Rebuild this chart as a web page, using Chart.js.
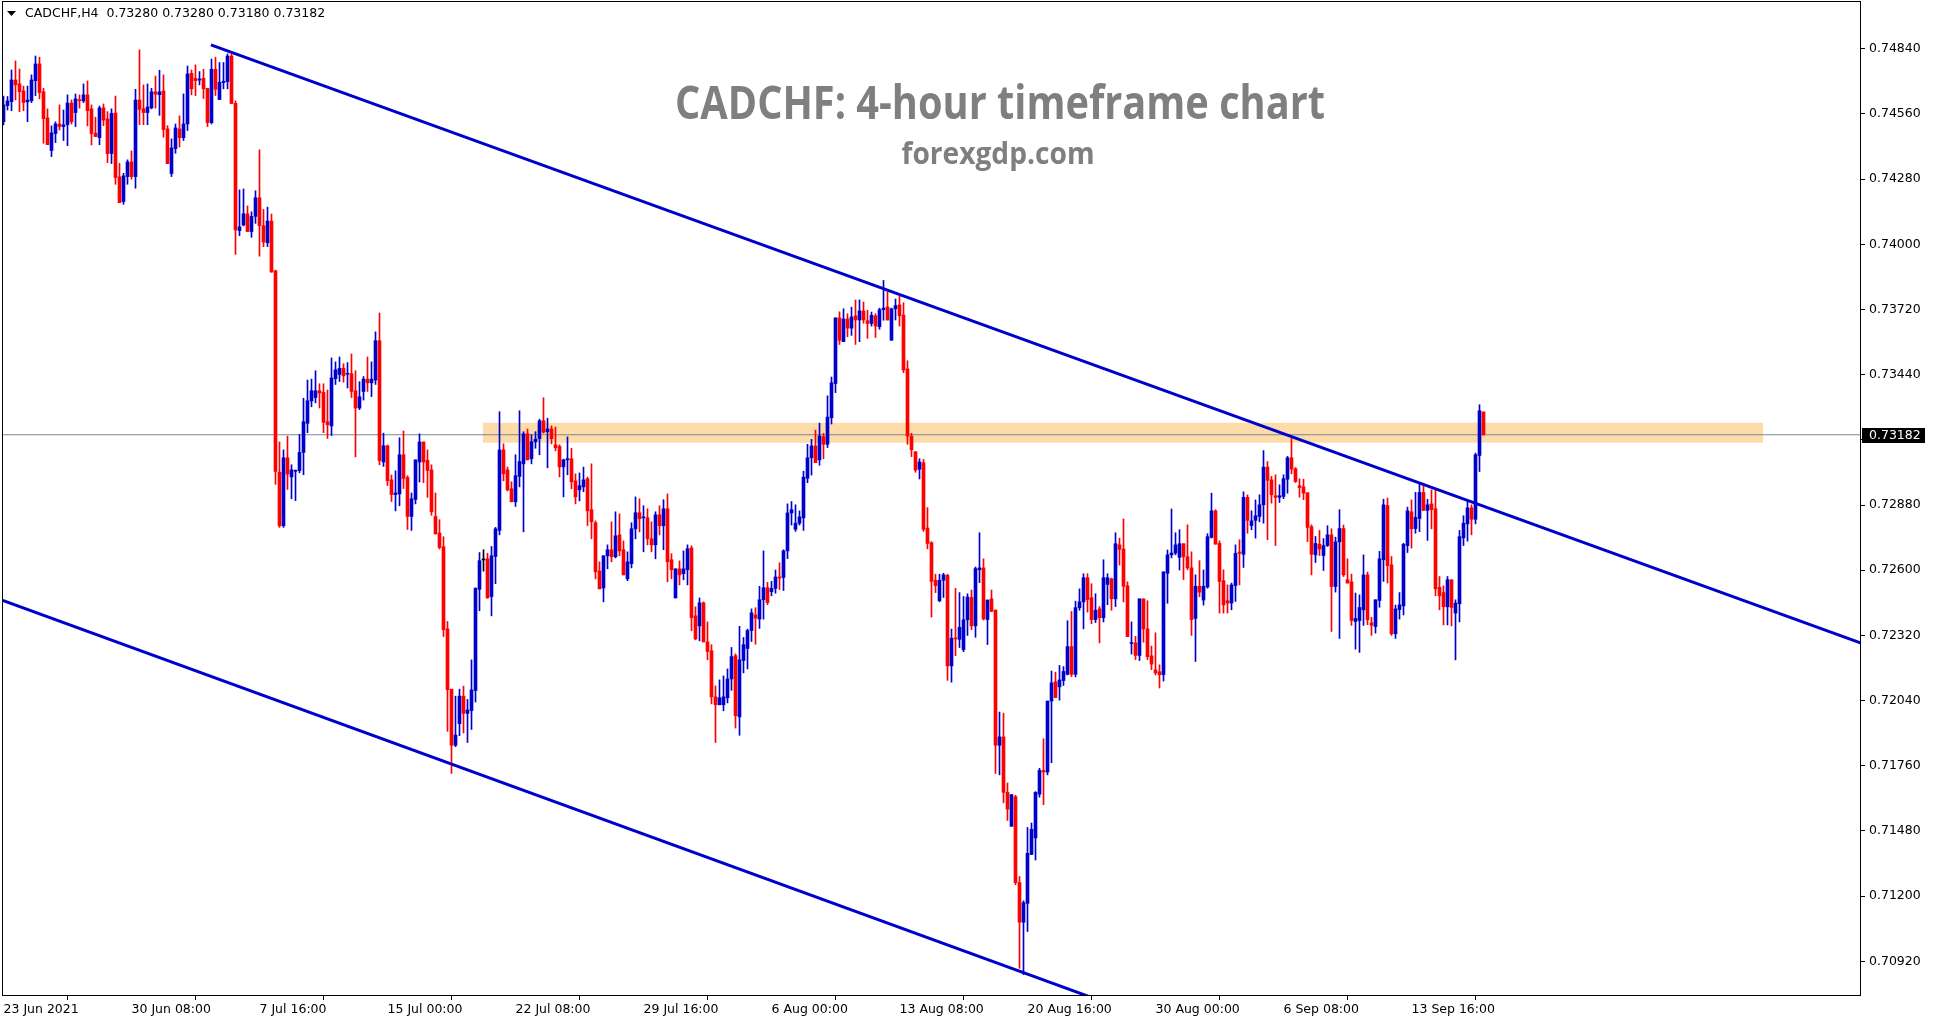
<!DOCTYPE html>
<html>
<head>
<meta charset="utf-8">
<script src="https://cdn.jsdelivr.net/npm/chart.js@4.4.0/dist/chart.umd.min.js"></script>
<style>
html, body { margin: 0; padding: 0; background: #fff; }
#wrap { width: 1933px; height: 1023px; }
</style>
</head>
<body>
<div id="wrap"><canvas id="myChart"></canvas></div>
<script>
var symbolName = 'CADCHF,H4'
var titleText = 'CADCHF: 4-hour timeframe chart'
var siteText = 'forexgdp.com'

// bar index of each date label on the time axis (one label every 32 H4 bars)
var xTickBars = [0, 32, 64, 96, 128, 160, 192, 224, 256, 288, 320, 352]
var xTickLabels = ['23 Jun 2021', '30 Jun 08:00', '7 Jul 16:00', '15 Jul 00:00', '22 Jul 08:00', '29 Jul 16:00',
    '6 Aug 00:00', '13 Aug 08:00', '20 Aug 16:00', '30 Aug 00:00', '6 Sep 08:00', '13 Sep 16:00']
var yTicks = [0.70920, 0.71200, 0.71480, 0.71760, 0.72040, 0.72320, 0.72600, 0.72880,
    0.73160, 0.73440, 0.73720, 0.74000, 0.74280, 0.74560, 0.74840]

var openVal = [
    0.74527, 0.74596, 0.74613, 0.74706, 0.74689, 0.74659, 0.74612, 0.74617, 0.74703, 0.74775,
    0.74655, 0.74543, 0.74403, 0.74476, 0.74517, 0.74506, 0.74514, 0.74607, 0.74566, 0.74622,
    0.74616, 0.74642, 0.74582, 0.74477, 0.74458, 0.74586, 0.74539, 0.74390, 0.74564, 0.74290,
    0.74184, 0.74291, 0.74354, 0.74291, 0.74620, 0.74582, 0.74566, 0.74586, 0.74655, 0.74643,
    0.74659, 0.74496, 0.74304, 0.74411, 0.74496, 0.74458, 0.74517, 0.74735, 0.74713, 0.74706,
    0.74713, 0.74670, 0.74523, 0.74752, 0.74622, 0.74695, 0.74699, 0.74809, 0.74606, 0.74059,
    0.74083, 0.74131, 0.74055, 0.74120, 0.74200, 0.74080, 0.74007, 0.74100, 0.73886, 0.73021,
    0.72791, 0.73083, 0.73001, 0.73025, 0.73028, 0.73106, 0.73231, 0.73327, 0.73342, 0.73371,
    0.73364, 0.73238, 0.73220, 0.73423, 0.73441, 0.73467, 0.73442, 0.73444, 0.73371, 0.73297,
    0.73368, 0.73421, 0.73405, 0.73417, 0.73586, 0.73065, 0.73134, 0.72988, 0.72925, 0.72928,
    0.73096, 0.72998, 0.72831, 0.72904, 0.73065, 0.73151, 0.73072, 0.73031, 0.72831, 0.72760,
    0.72701, 0.72348, 0.72089, 0.71848, 0.71941, 0.72059, 0.71985, 0.71997, 0.72083, 0.72518,
    0.72644, 0.72649, 0.72487, 0.72659, 0.72771, 0.73117, 0.73031, 0.72950, 0.72894, 0.73003,
    0.73057, 0.73186, 0.73079, 0.73152, 0.73165, 0.73242, 0.73195, 0.73207, 0.73139, 0.73132,
    0.73044, 0.73074, 0.73079, 0.72984, 0.72945, 0.72958, 0.72993, 0.72860, 0.72804, 0.72597,
    0.72524, 0.72662, 0.72688, 0.72658, 0.72752, 0.72688, 0.72563, 0.72628, 0.72778, 0.72847,
    0.72825, 0.72825, 0.72735, 0.72709, 0.72838, 0.72791, 0.72864, 0.72645, 0.72481, 0.72606,
    0.72585, 0.72602, 0.72696, 0.72404, 0.72361, 0.72460, 0.72292, 0.72254, 0.72056, 0.72022,
    0.72022, 0.72052, 0.72133, 0.72233, 0.71970, 0.72212, 0.72264, 0.72341, 0.72408, 0.72390,
    0.72473, 0.72525, 0.72508, 0.72522, 0.72571, 0.72569, 0.72683, 0.72846, 0.72776, 0.72802,
    0.72825, 0.72995, 0.73083, 0.73134, 0.73074, 0.73174, 0.73141, 0.73255, 0.73402, 0.73684,
    0.73582, 0.73679, 0.73640, 0.73693, 0.73675, 0.73714, 0.73672, 0.73660, 0.73693, 0.73646,
    0.73719, 0.73731, 0.73588, 0.73723, 0.73740, 0.73696, 0.73465, 0.73176, 0.73109, 0.73034,
    0.73062, 0.72781, 0.72718, 0.72557, 0.72469, 0.72557, 0.72578, 0.72189, 0.72308, 0.72303,
    0.72259, 0.72387, 0.72483, 0.72361, 0.72602, 0.72610, 0.72388, 0.72477, 0.72429, 0.71848,
    0.71884, 0.71646, 0.71500, 0.71627, 0.71258, 0.71088, 0.71169, 0.71379, 0.71450, 0.71638,
    0.71740, 0.71733, 0.72038, 0.72121, 0.72099, 0.72126, 0.72153, 0.72272, 0.72153, 0.72439,
    0.72464, 0.72568, 0.72482, 0.72388, 0.72434, 0.72396, 0.72539, 0.72563, 0.72477, 0.72709,
    0.72691, 0.72533, 0.72285, 0.72288, 0.72234, 0.72477, 0.72348, 0.72232, 0.72172, 0.72164,
    0.72151, 0.72587, 0.72666, 0.72674, 0.72655, 0.72714, 0.72658, 0.72610, 0.72393, 0.72531,
    0.72472, 0.72528, 0.72741, 0.72855, 0.72715, 0.72555, 0.72469, 0.72459, 0.72534, 0.72678,
    0.72668, 0.72913, 0.72792, 0.72814, 0.72831, 0.72881, 0.73043, 0.72988, 0.72920, 0.72913,
    0.72917, 0.72991, 0.73083, 0.73036, 0.72963, 0.72958, 0.72933, 0.72787, 0.72666, 0.72712,
    0.72663, 0.72706, 0.72752, 0.72530, 0.72722, 0.72779, 0.72559, 0.72550, 0.72380, 0.72384,
    0.72430, 0.72580, 0.72374, 0.72358, 0.72470, 0.72645, 0.72878, 0.72623, 0.72327, 0.72431,
    0.72447, 0.72706, 0.72851, 0.72779, 0.72822, 0.72934, 0.72857, 0.72885, 0.72864, 0.72527,
    0.72504, 0.72443, 0.72559, 0.72416, 0.72456, 0.72739, 0.72799, 0.72868, 0.72819, 0.73093,
    0.73280
]
var highVal = [
    0.74637, 0.74635, 0.74749, 0.74788, 0.74753, 0.74680, 0.74680, 0.74728, 0.74809, 0.74804,
    0.74670, 0.74582, 0.74509, 0.74526, 0.74599, 0.74577, 0.74642, 0.74620, 0.74646, 0.74642,
    0.74689, 0.74702, 0.74599, 0.74546, 0.74594, 0.74603, 0.74570, 0.74582, 0.74637, 0.74348,
    0.74305, 0.74363, 0.74401, 0.74666, 0.74835, 0.74685, 0.74689, 0.74670, 0.74723, 0.74748,
    0.74728, 0.74510, 0.74453, 0.74517, 0.74552, 0.74646, 0.74766, 0.74749, 0.74771, 0.74742,
    0.74752, 0.74670, 0.74796, 0.74804, 0.74781, 0.74781, 0.74818, 0.74821, 0.74616, 0.74234,
    0.74238, 0.74165, 0.74140, 0.74230, 0.74406, 0.74150, 0.74160, 0.74130, 0.73889, 0.73151,
    0.73117, 0.73176, 0.73053, 0.73031, 0.73183, 0.73339, 0.73417, 0.73421, 0.73457, 0.73401,
    0.73401, 0.73374, 0.73512, 0.73495, 0.73516, 0.73487, 0.73492, 0.73529, 0.73457, 0.73410,
    0.73432, 0.73516, 0.73495, 0.73624, 0.73705, 0.73189, 0.73138, 0.73009, 0.73027, 0.73169,
    0.73198, 0.73006, 0.72932, 0.73074, 0.73186, 0.73151, 0.73117, 0.73053, 0.72932, 0.72817,
    0.72744, 0.72380, 0.72089, 0.72059, 0.72089, 0.72102, 0.72045, 0.72215, 0.72525, 0.72676,
    0.72688, 0.72673, 0.72702, 0.72784, 0.73281, 0.73143, 0.73043, 0.72980, 0.73096, 0.73285,
    0.73195, 0.73207, 0.73182, 0.73195, 0.73249, 0.73341, 0.73253, 0.73220, 0.73215, 0.73139,
    0.73077, 0.73173, 0.73124, 0.73014, 0.73018, 0.73043, 0.73000, 0.73057, 0.72812, 0.72636,
    0.72662, 0.72709, 0.72808, 0.72851, 0.72842, 0.72726, 0.72679, 0.72804, 0.72915, 0.72907,
    0.72877, 0.72864, 0.72808, 0.72851, 0.72877, 0.72903, 0.72928, 0.72671, 0.72606, 0.72640,
    0.72683, 0.72709, 0.72705, 0.72443, 0.72481, 0.72464, 0.72378, 0.72280, 0.72103, 0.72129,
    0.72146, 0.72176, 0.72268, 0.72241, 0.72359, 0.72311, 0.72347, 0.72434, 0.72439, 0.72531,
    0.72683, 0.72548, 0.72552, 0.72601, 0.72632, 0.72688, 0.72885, 0.72895, 0.72881, 0.72855,
    0.73025, 0.73141, 0.73162, 0.73202, 0.73232, 0.73188, 0.73349, 0.73430, 0.73684, 0.73710,
    0.73723, 0.73702, 0.73730, 0.73761, 0.73761, 0.73752, 0.73717, 0.73709, 0.73702, 0.73726,
    0.73845, 0.73796, 0.73726, 0.73765, 0.73779, 0.73749, 0.73500, 0.73188, 0.73109, 0.73079,
    0.73076, 0.72869, 0.72723, 0.72583, 0.72583, 0.72587, 0.72583, 0.72347, 0.72522, 0.72504,
    0.72487, 0.72499, 0.72515, 0.72614, 0.72761, 0.72649, 0.72472, 0.72515, 0.72429, 0.71991,
    0.71986, 0.71686, 0.71636, 0.71633, 0.71284, 0.71180, 0.71495, 0.71514, 0.71649, 0.71749,
    0.71876, 0.72038, 0.72167, 0.72162, 0.72191, 0.72186, 0.72383, 0.72423, 0.72467, 0.72520,
    0.72585, 0.72585, 0.72542, 0.72499, 0.72444, 0.72645, 0.72585, 0.72566, 0.72761, 0.72738,
    0.72820, 0.72550, 0.72378, 0.72316, 0.72477, 0.72477, 0.72469, 0.72274, 0.72331, 0.72194,
    0.72593, 0.72687, 0.72863, 0.72761, 0.72774, 0.72714, 0.72795, 0.72679, 0.72580, 0.72641,
    0.72601, 0.72757, 0.72931, 0.72860, 0.72726, 0.72602, 0.72537, 0.72545, 0.72709, 0.72731,
    0.72937, 0.72924, 0.72855, 0.72902, 0.72924, 0.73114, 0.73067, 0.73003, 0.73010, 0.72967,
    0.73010, 0.73089, 0.73166, 0.73041, 0.72993, 0.72991, 0.72933, 0.72795, 0.72745, 0.72771,
    0.72736, 0.72791, 0.72778, 0.72742, 0.72860, 0.72794, 0.72649, 0.72583, 0.72502, 0.72494,
    0.72666, 0.72592, 0.72398, 0.72473, 0.72681, 0.72905, 0.72910, 0.72659, 0.72450, 0.72504,
    0.72716, 0.72871, 0.72902, 0.72935, 0.72971, 0.72974, 0.72905, 0.72945, 0.72948, 0.72573,
    0.72533, 0.72573, 0.72559, 0.72473, 0.72771, 0.72834, 0.72894, 0.72881, 0.73103, 0.73311,
    0.73280
]
var lowVal = [
    0.74513, 0.74577, 0.74574, 0.74620, 0.74570, 0.74574, 0.74527, 0.74609, 0.74639, 0.74625,
    0.74434, 0.74428, 0.74377, 0.74437, 0.74491, 0.74446, 0.74424, 0.74517, 0.74506, 0.74585,
    0.74609, 0.74509, 0.74427, 0.74463, 0.74428, 0.74510, 0.74351, 0.74347, 0.74258, 0.74179,
    0.74172, 0.74258, 0.74280, 0.74241, 0.74514, 0.74514, 0.74514, 0.74582, 0.74585, 0.74554,
    0.74460, 0.74347, 0.74291, 0.74391, 0.74418, 0.74446, 0.74489, 0.74642, 0.74639, 0.74685,
    0.74626, 0.74506, 0.74517, 0.74639, 0.74622, 0.74668, 0.74668, 0.74605, 0.73957, 0.74037,
    0.74079, 0.74055, 0.74030, 0.74090, 0.73949, 0.73990, 0.73990, 0.73880, 0.72969, 0.72784,
    0.72784, 0.72947, 0.72907, 0.72899, 0.73018, 0.73010, 0.73191, 0.73302, 0.73319, 0.73297,
    0.73191, 0.73166, 0.73179, 0.73398, 0.73411, 0.73408, 0.73383, 0.73342, 0.73087, 0.73290,
    0.73331, 0.73368, 0.73346, 0.73398, 0.73053, 0.73046, 0.72964, 0.72895, 0.72855, 0.72877,
    0.72951, 0.72775, 0.72771, 0.72885, 0.72979, 0.72976, 0.72913, 0.72836, 0.72754, 0.72691,
    0.72315, 0.71908, 0.71727, 0.71842, 0.71889, 0.71901, 0.71860, 0.71916, 0.72034, 0.72426,
    0.72596, 0.72480, 0.72404, 0.72542, 0.72752, 0.72984, 0.72941, 0.72894, 0.72874, 0.72958,
    0.72765, 0.73074, 0.73057, 0.73124, 0.73096, 0.73189, 0.73040, 0.73143, 0.73113, 0.73001,
    0.72915, 0.73010, 0.72950, 0.72885, 0.72898, 0.72937, 0.72792, 0.72735, 0.72563, 0.72520,
    0.72464, 0.72606, 0.72636, 0.72653, 0.72662, 0.72580, 0.72555, 0.72610, 0.72735, 0.72765,
    0.72679, 0.72709, 0.72679, 0.72649, 0.72752, 0.72688, 0.72550, 0.72563, 0.72481, 0.72537,
    0.72559, 0.72537, 0.72340, 0.72301, 0.72297, 0.72292, 0.72215, 0.72026, 0.71860, 0.72022,
    0.71996, 0.72030, 0.72084, 0.71922, 0.71891, 0.72159, 0.72176, 0.72294, 0.72282, 0.72350,
    0.72390, 0.72452, 0.72490, 0.72501, 0.72517, 0.72513, 0.72650, 0.72794, 0.72767, 0.72794,
    0.72771, 0.72976, 0.73009, 0.73062, 0.73051, 0.73079, 0.73127, 0.73228, 0.73363, 0.73570,
    0.73582, 0.73603, 0.73609, 0.73570, 0.73582, 0.73661, 0.73596, 0.73649, 0.73600, 0.73635,
    0.73674, 0.73675, 0.73588, 0.73675, 0.73649, 0.73449, 0.73141, 0.73088, 0.73021, 0.72992,
    0.72767, 0.72692, 0.72399, 0.72504, 0.72464, 0.72483, 0.72127, 0.72119, 0.72233, 0.72268,
    0.72250, 0.72320, 0.72345, 0.72312, 0.72547, 0.72386, 0.72281, 0.72423, 0.71727, 0.71721,
    0.71601, 0.71525, 0.71500, 0.71249, 0.70890, 0.70863, 0.71048, 0.71379, 0.71355, 0.71625,
    0.71593, 0.71721, 0.71773, 0.72053, 0.72042, 0.72105, 0.72150, 0.72143, 0.72142, 0.72428,
    0.72348, 0.72420, 0.72370, 0.72375, 0.72288, 0.72378, 0.72452, 0.72428, 0.72444, 0.72622,
    0.72464, 0.72315, 0.72240, 0.72216, 0.72212, 0.72291, 0.72216, 0.72173, 0.72150, 0.72094,
    0.72124, 0.72458, 0.72653, 0.72666, 0.72601, 0.72560, 0.72602, 0.72320, 0.72208, 0.72486,
    0.72450, 0.72523, 0.72738, 0.72712, 0.72416, 0.72416, 0.72416, 0.72430, 0.72466, 0.72537,
    0.72612, 0.72759, 0.72774, 0.72738, 0.72808, 0.72802, 0.72731, 0.72888, 0.72706, 0.72891,
    0.72907, 0.72931, 0.73014, 0.72977, 0.72914, 0.72903, 0.72723, 0.72580, 0.72633, 0.72663,
    0.72599, 0.72702, 0.72337, 0.72506, 0.72307, 0.72573, 0.72545, 0.72363, 0.72261, 0.72247,
    0.72363, 0.72366, 0.72320, 0.72330, 0.72441, 0.72552, 0.72545, 0.72320, 0.72307, 0.72390,
    0.72408, 0.72676, 0.72695, 0.72759, 0.72766, 0.72857, 0.72728, 0.72778, 0.72490, 0.72430,
    0.72365, 0.72365, 0.72361, 0.72215, 0.72378, 0.72706, 0.72725, 0.72752, 0.72799, 0.73024,
    0.73180
]
var closeVal = [
    0.74599, 0.74616, 0.74706, 0.74685, 0.74656, 0.74609, 0.74620, 0.74706, 0.74775, 0.74652,
    0.74540, 0.74428, 0.74479, 0.74517, 0.74506, 0.74513, 0.74607, 0.74526, 0.74625, 0.74617,
    0.74642, 0.74574, 0.74476, 0.74463, 0.74586, 0.74534, 0.74390, 0.74563, 0.74287, 0.74179,
    0.74294, 0.74354, 0.74291, 0.74620, 0.74580, 0.74566, 0.74590, 0.74655, 0.74645, 0.74655,
    0.74493, 0.74347, 0.74414, 0.74500, 0.74458, 0.74517, 0.74732, 0.74668, 0.74703, 0.74710,
    0.74668, 0.74523, 0.74752, 0.74666, 0.74696, 0.74700, 0.74809, 0.74605, 0.74062, 0.74075,
    0.74131, 0.74055, 0.74120, 0.74200, 0.74080, 0.74010, 0.74100, 0.73881, 0.73024, 0.72791,
    0.73083, 0.73013, 0.73031, 0.73028, 0.73106, 0.73238, 0.73328, 0.73371, 0.73371, 0.73361,
    0.73235, 0.73225, 0.73426, 0.73461, 0.73467, 0.73435, 0.73445, 0.73368, 0.73297, 0.73345,
    0.73421, 0.73405, 0.73421, 0.73586, 0.73071, 0.73135, 0.72984, 0.72925, 0.72932, 0.73096,
    0.72994, 0.72831, 0.72907, 0.73074, 0.73151, 0.73065, 0.73028, 0.72851, 0.72757, 0.72698,
    0.72345, 0.72087, 0.71848, 0.71892, 0.72059, 0.71985, 0.72000, 0.72086, 0.72522, 0.72641,
    0.72644, 0.72481, 0.72662, 0.72778, 0.73117, 0.73014, 0.72945, 0.72894, 0.73006, 0.73067,
    0.73186, 0.73074, 0.73152, 0.73163, 0.73242, 0.73193, 0.73207, 0.73165, 0.73126, 0.73044,
    0.73074, 0.73079, 0.72980, 0.72915, 0.72963, 0.72988, 0.72855, 0.72808, 0.72593, 0.72520,
    0.72662, 0.72688, 0.72658, 0.72748, 0.72683, 0.72580, 0.72636, 0.72778, 0.72847, 0.72821,
    0.72829, 0.72735, 0.72709, 0.72838, 0.72791, 0.72864, 0.72636, 0.72602, 0.72606, 0.72580,
    0.72606, 0.72692, 0.72396, 0.72305, 0.72460, 0.72292, 0.72251, 0.72056, 0.72022, 0.72052,
    0.72056, 0.72133, 0.72229, 0.71975, 0.72215, 0.72280, 0.72341, 0.72417, 0.72394, 0.72473,
    0.72525, 0.72461, 0.72522, 0.72571, 0.72566, 0.72683, 0.72846, 0.72860, 0.72802, 0.72829,
    0.73000, 0.73083, 0.73134, 0.73062, 0.73177, 0.73141, 0.73258, 0.73405, 0.73684, 0.73588,
    0.73679, 0.73640, 0.73688, 0.73675, 0.73714, 0.73675, 0.73660, 0.73695, 0.73649, 0.73719,
    0.73726, 0.73675, 0.73723, 0.73737, 0.73693, 0.73460, 0.73176, 0.73118, 0.73030, 0.73065,
    0.72776, 0.72715, 0.72552, 0.72534, 0.72557, 0.72580, 0.72189, 0.72308, 0.72305, 0.72355,
    0.72387, 0.72485, 0.72361, 0.72607, 0.72610, 0.72391, 0.72472, 0.72423, 0.71848, 0.71884,
    0.71646, 0.71574, 0.71636, 0.71258, 0.71088, 0.71172, 0.71384, 0.71487, 0.71646, 0.71740,
    0.71733, 0.72038, 0.72116, 0.72053, 0.72129, 0.72165, 0.72272, 0.72153, 0.72439, 0.72464,
    0.72568, 0.72474, 0.72388, 0.72428, 0.72396, 0.72568, 0.72568, 0.72477, 0.72714, 0.72690,
    0.72531, 0.72315, 0.72288, 0.72234, 0.72477, 0.72348, 0.72229, 0.72197, 0.72159, 0.72151,
    0.72593, 0.72666, 0.72674, 0.72709, 0.72714, 0.72658, 0.72610, 0.72388, 0.72531, 0.72506,
    0.72531, 0.72744, 0.72855, 0.72712, 0.72552, 0.72451, 0.72459, 0.72537, 0.72673, 0.72673,
    0.72913, 0.72814, 0.72812, 0.72834, 0.72881, 0.73043, 0.72986, 0.72924, 0.72913, 0.72920,
    0.72993, 0.73083, 0.73034, 0.72981, 0.72955, 0.72931, 0.72784, 0.72669, 0.72715, 0.72691,
    0.72706, 0.72752, 0.72530, 0.72722, 0.72779, 0.72580, 0.72545, 0.72384, 0.72393, 0.72440,
    0.72580, 0.72387, 0.72364, 0.72473, 0.72649, 0.72881, 0.72620, 0.72327, 0.72434, 0.72451,
    0.72711, 0.72855, 0.72778, 0.72827, 0.72934, 0.72857, 0.72881, 0.72860, 0.72520, 0.72490,
    0.72443, 0.72559, 0.72440, 0.72459, 0.72744, 0.72802, 0.72868, 0.72819, 0.73096, 0.73285,
    0.73182
]

// drawn objects, as [bar index, price] end points
var upperLineBars = [51.85, 464.4]
var upperLinePrices = [0.74857, 0.72287]
var lowerLineBars = [-0.375, 275]
var lowerLinePrices = [0.72471, 0.70746]
var zoneBars = [119.8, 439.9]
var zonePrices = [0.73234, 0.73148]

var blueCol = '#0000cd'
var redCol = '#ff0000'
var axisFont = { family: 'DejaVu Sans', size: 12.5 }

var lastIdx = closeVal.length - 1
var bodyData = []
var wickData = []
var candleColors = []
for (var i = 0; i < closeVal.length; i++) {
    bodyData.push({ x: i, y: [openVal[i], closeVal[i]] })
    wickData.push({ x: i, y: [lowVal[i], highVal[i]] })
    if (closeVal[i] > openVal[i]) candleColors.push(blueCol)
    else if (closeVal[i] < openVal[i]) candleColors.push(redCol)
    else candleColors.push('#000000')
}

function twoPoints(xs, ys) {
    return [{ x: xs[0], y: ys[0] }, { x: xs[1], y: ys[1] }]
}

// no extra room for overhanging tick labels, the frame sits at the canvas edge
function noPadding(axis) {
    axis.paddingTop = 0
    axis.paddingBottom = 0
    axis.paddingLeft = 0
    axis.paddingRight = 0
}

var overlay = {
    id: 'overlay',
    afterDraw: function (chart) {
        var ctx = chart.ctx
        var a = chart.chartArea
        var ys = chart.scales.y
        ctx.save()

        // frame
        ctx.strokeStyle = '#000'
        ctx.lineWidth = 1
        ctx.strokeRect(a.left + 0.5, a.top - 0.5, a.right - a.left - 1, a.bottom - a.top)

        // header line
        ctx.fillStyle = '#000'
        ctx.beginPath()
        ctx.moveTo(7, 11)
        ctx.lineTo(16, 11)
        ctx.lineTo(11.5, 16)
        ctx.closePath()
        ctx.fill()
        ctx.font = '12.5px "DejaVu Sans"'
        ctx.textBaseline = 'middle'
        ctx.textAlign = 'left'
        var ohlc = [openVal[lastIdx], highVal[lastIdx], lowVal[lastIdx], closeVal[lastIdx]]
        ctx.fillText(symbolName + '  ' + ohlc.map(function (v) { return v.toFixed(5) }).join(' '), 25, 14)

        // title
        ctx.fillStyle = '#7f7f7f'
        ctx.textAlign = 'center'
        ctx.textBaseline = 'alphabetic'
        ctx.font = 'bold 46px "Open Sans"'
        var w = ctx.measureText(titleText).width
        ctx.save()
        ctx.translate(1000, 118.5)
        ctx.scale(650 / w, 1)
        ctx.fillText(titleText, 0, 0)
        ctx.restore()
        ctx.font = 'bold 30px "Open Sans"'
        w = ctx.measureText(siteText).width
        ctx.save()
        ctx.translate(998, 164)
        ctx.scale(193 / w, 1)
        ctx.fillText(siteText, 0, 0)
        ctx.restore()

        // current price label
        var yc = Math.round(ys.getPixelForValue(closeVal[lastIdx]))
        ctx.fillStyle = '#000'
        ctx.fillRect(a.right + 1, yc - 7, 63, 15)
        ctx.fillStyle = '#fff'
        ctx.textAlign = 'left'
        ctx.textBaseline = 'middle'
        ctx.font = '12.5px "DejaVu Sans"'
        ctx.fillText(closeVal[lastIdx].toFixed(5), a.right + 8, yc + 0.5)
        ctx.restore()
    }
}

var myChart = new Chart('myChart', {
    type: 'bar',
    data: {
        datasets: [{
            type: 'line',
            data: twoPoints(upperLineBars, upperLinePrices),
            borderColor: blueCol,
            borderWidth: 3,
            pointRadius: 0,
            order: 1
        }, {
            type: 'line',
            data: twoPoints(lowerLineBars, lowerLinePrices),
            borderColor: blueCol,
            borderWidth: 3,
            pointRadius: 0,
            order: 1
        }, {
            data: bodyData,
            backgroundColor: candleColors,
            barThickness: 3,
            minBarLength: 1,
            grouped: false,
            borderWidth: 0,
            order: 2
        }, {
            data: wickData,
            backgroundColor: candleColors,
            barThickness: 1,
            grouped: false,
            borderWidth: 0,
            order: 3
        }, {
            type: 'line',
            data: twoPoints([-0.375, 464.375], [closeVal[lastIdx], closeVal[lastIdx]]),
            borderColor: '#778899',
            borderWidth: 1,
            pointRadius: 0,
            order: 4
        }, {
            type: 'line',
            data: twoPoints(zoneBars, [zonePrices[0], zonePrices[0]]),
            borderWidth: 0,
            pointRadius: 0,
            backgroundColor: '#fddcaa',
            fill: '+1',
            order: 5
        }, {
            type: 'line',
            data: twoPoints(zoneBars, [zonePrices[1], zonePrices[1]]),
            borderWidth: 0,
            pointRadius: 0,
            order: 5
        }]
    },
    plugins: [overlay],
    options: {
        responsive: true,
        maintainAspectRatio: false,
        devicePixelRatio: 1,
        animation: false,
        events: [],
        layout: { padding: { left: 2, top: 2, right: 0, bottom: 0 } },
        plugins: {
            legend: { display: false },
            tooltip: { enabled: false },
            title: { display: false }
        },
        scales: {
            x: {
                type: 'linear',
                min: -0.375,
                max: 464.375,
                offset: false,
                border: { display: false },
                grid: { display: true, drawOnChartArea: false, drawTicks: true, tickLength: 4, color: '#000' },
                afterBuildTicks: function (axis) {
                    axis.ticks = xTickBars.map(function (v) { return { value: v } })
                },
                afterFit: function (axis) {
                    axis.height = 27
                    noPadding(axis)
                },
                ticks: {
                    autoSkip: false,
                    maxRotation: 0,
                    align: 'start',
                    padding: 2,
                    color: '#000',
                    font: axisFont,
                    callback: function (value, index) { return xTickLabels[index] }
                }
            },
            y: {
                type: 'linear',
                position: 'right',
                min: 0.70771,
                max: 0.75041,
                border: { display: false },
                grid: { display: true, drawOnChartArea: false, drawTicks: true, tickLength: 4, color: '#000' },
                afterBuildTicks: function (axis) {
                    axis.ticks = yTicks.map(function (v) { return { value: v } })
                },
                afterFit: function (axis) {
                    axis.width = 72
                    noPadding(axis)
                },
                ticks: {
                    autoSkip: false,
                    padding: 4,
                    color: '#000',
                    font: axisFont,
                    callback: function (value) { return value.toFixed(5) }
                }
            }
        }
    }
});
</script>
</body>
</html>
